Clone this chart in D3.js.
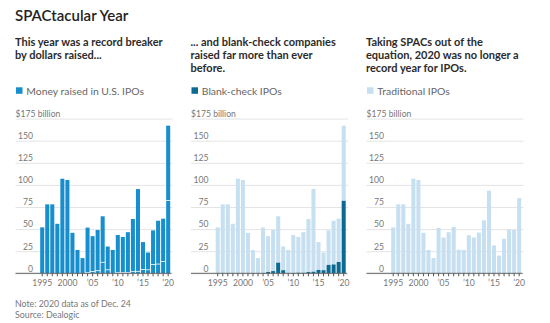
<!DOCTYPE html>
<html><head><meta charset="utf-8">
<script src="https://cdn.jsdelivr.net/npm/d3@7"></script>
<style>
body{margin:0;background:#fff}
text{font-family:Lato,"Noto Sans",sans-serif}
</style>
</head><body>
<script>
// years shown on every panel
var years = d3.range(1995, 2021);
// traditional IPOs, $ billion
var traditional = [52, 78, 78, 56, 107, 105.5, 45.8, 26.4, 17.2, 51.4, 40.5, 46.5, 52.5, 26.8, 26.4, 43, 40.5, 46, 60, 93.5, 31.5, 20, 39, 49.5, 49, 85];
// blank-check (SPAC) IPOs, $ billion
var spac = [0, 0, 0, 0, 0, 0, 0, 0, 0, 0.3, 1.5, 2.5, 12, 3.5, 0, 0.3, 0.6, 0.5, 1.4, 1.8, 3.8, 3.5, 9.5, 10, 12.8, 82];
var yTicks = [0, 25, 50, 75, 100, 125, 150, 175];
var yearLabels = {1995: "1995", 2000: "2000", 2005: "\u201905", 2010: "\u201910", 2015: "\u201915", 2020: "\u201920"};

var subtitles = [
  ["This year was a record breaker", "by dollars raised..."],
  ["... and blank-check companies", "raised far more than ever", "before."],
  ["Taking SPACs out of the", "equation, 2020 was no longer a", "record year for IPOs."]
];
var legendNames = ["Money raised in U.S. IPOs", "Blank-check IPOs", "Traditional IPOs"];

var blue = "#178ecd", darkBlue = "#0b6a91", lightBlue = "#c6dff1";
var legendColors = [blue, darkBlue, lightBlue];

var width = 550, height = 323;
var panelX = [15.5, 191, 366.5];
var panelW = 157;

var svg = d3.select("body").append("svg")
  .attr("width", width)
  .attr("height", height);

svg.append("text")
  .attr("x", 15).attr("y", 20.5)
  .style("font-size", "15px").style("font-weight", 600).style("fill", "#222")
  .text("SPACtacular Year");

var y = d3.scaleLinear().domain([0, 175]).range([273.3, 118.6]);

panelX.forEach(function(x0, p) {
  var g = svg.append("g").attr("transform", "translate(" + x0 + ",0)");

  // subtitle
  subtitles[p].forEach(function(line, i) {
    g.append("text")
      .attr("x", -0.5).attr("y", 45.5 + i * 13.4)
      .style("font-size", "11px").style("font-weight", 700).style("fill", "#2b2b2b")
      .text(line);
  });

  // legend
  g.append("rect").attr("x", 0.5).attr("y", 87.3).attr("width", 6.5).attr("height", 6.5)
    .style("fill", legendColors[p]);
  g.append("text").attr("x", 10.8).attr("y", 94.6)
    .style("font-size", "10.4px").style("fill", "#666")
    .text(legendNames[p]);

  // gridlines + y labels
  var yAxis = d3.axisLeft(y).tickValues(yTicks).tickSize(-panelW).tickPadding(0);
  var ya = g.append("g").call(yAxis);
  ya.select(".domain").remove();
  ya.selectAll(".tick line").style("stroke", "#e4e4e4");
  ya.selectAll(".tick text")
    .attr("x", function(d) { return d == 175 ? 0 : 17.5; })
    .attr("dy", "-2.2")
    .style("text-anchor", function(d) { return d == 175 ? "start" : "end"; })
    .style("font-family", "Lato").style("font-size", "8.6px").style("fill", "#777")
    .text(function(d) { return d == 175 ? "$175 billion" : d; });

  var x = d3.scaleBand().domain(years).range([24.7, 154.7]).paddingInner(0.2).paddingOuter(0);

  // bars
  var bars = g.append("g");
  years.forEach(function(yr, i) {
    var s = spac[i], t = traditional[i];
    if (p == 0) {
      if (s > 0) {
        bars.append("rect").attr("x", x(yr)).attr("width", x.bandwidth())
          .attr("y", y(s)).attr("height", y(0) - y(s)).style("fill", blue);
      }
      bars.append("rect").attr("x", x(yr)).attr("width", x.bandwidth())
        .attr("y", y(s + t)).attr("height", y(s) - y(s + t) - (s > 0 ? 0.8 : 0)).style("fill", blue);
    } else if (p == 1) {
      bars.append("rect").attr("x", x(yr)).attr("width", x.bandwidth())
        .attr("y", y(s + t)).attr("height", y(s) - y(s + t)).style("fill", lightBlue);
      if (s > 0) {
        bars.append("rect").attr("x", x(yr)).attr("width", x.bandwidth())
          .attr("y", y(s)).attr("height", y(0) - y(s)).style("fill", darkBlue);
      }
    } else {
      bars.append("rect").attr("x", x(yr)).attr("width", x.bandwidth())
        .attr("y", y(t)).attr("height", y(0) - y(t)).style("fill", lightBlue);
    }
  });

  // baseline
  g.append("line").attr("x1", 0).attr("x2", panelW - 1)
    .attr("y1", y(0)).attr("y2", y(0))
    .style("stroke", "#666").style("stroke-width", 1);

  // x axis ticks and labels
  var xAxis = d3.axisBottom(x).tickSize(3).tickPadding(4)
    .tickFormat(function(d) { return yearLabels[d] || ""; });
  var xa = g.append("g").attr("transform", "translate(0," + y(0) + ")").call(xAxis);
  xa.select(".domain").remove();
  xa.selectAll(".tick line").style("stroke", "#555");
  xa.selectAll(".tick text")
    .style("font-family", "Lato").style("font-size", "8.6px").style("fill", "#777");
});

// footnotes
svg.append("text").attr("x", 15).attr("y", 306.5)
  .style("font-size", "8.8px").style("fill", "#777")
  .text("Note: 2020 data as of Dec. 24");
svg.append("text").attr("x", 15).attr("y", 317.5)
  .style("font-size", "8.8px").style("fill", "#777")
  .text("Source: Dealogic");
</script>
</body></html>
